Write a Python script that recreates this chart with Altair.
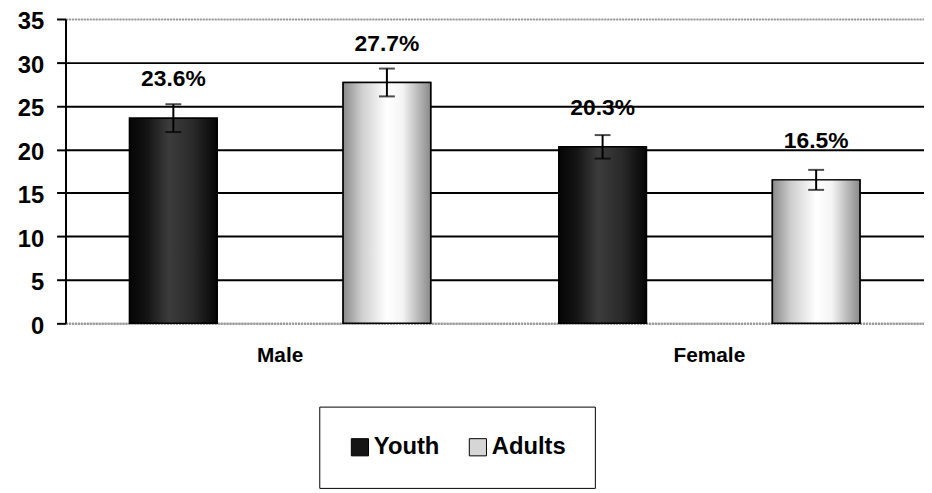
import altair as alt
import pandas as pd

genders = ["Male", "Male", "Female", "Female"]
groups = ["Youth", "Adults", "Youth", "Adults"]
values = [23.6, 27.7, 20.3, 16.5]
errors = [1.6, 1.6, 1.35, 1.15]
labels = ["23.6%", "27.7%", "20.3%", "16.5%"]
y_ticks = [0, 5, 10, 15, 20, 25, 30, 35]

df = pd.DataFrame({"gender": genders, "group": groups, "value": values,
                   "err": errors, "label": labels})
df["lo"] = df["value"] - df["err"]
df["hi"] = df["value"] + df["err"]

FONT = "Liberation Sans"

x = alt.X("gender:N", sort=["Male", "Female"],
          scale=alt.Scale(paddingInner=0, paddingOuter=0),
          axis=alt.Axis(title=None, labelAngle=0, labelFont=FONT, labelFontSize=21,
                        labelFontWeight="bold", labelColor="black", labelPadding=21,
                        ticks=False, domainColor="#999999", domainDash=[2, 1],
                        domainWidth=2))
xo = alt.XOffset("group:N", sort=["Youth", "Adults"],
                 scale=alt.Scale(paddingInner=0.59, paddingOuter=0.3))
y = alt.Y("value:Q", scale=alt.Scale(domain=[0, 35], nice=False),
          axis=alt.Axis(title=None, values=y_ticks, labelFont=FONT, labelFontSize=24,
                        labelFontWeight="bold", labelColor="black", labelPadding=13,
                        labelOffset=3,
                        tickSize=9, tickWidth=2, tickColor="black",
                        domainColor="black", domainWidth=2,
                        grid=True,
                        gridColor={"condition": {"test": "datum.value === 35 || datum.value === 0", "value": "#999999"}, "value": "black"},
                        gridDash={"condition": {"test": "datum.value === 35 || datum.value === 0", "value": [2, 1]}, "value": []},
                        gridWidth=2))

base = alt.Chart(df)

bars = base.mark_bar(stroke="black", strokeWidth=1.5).encode(
    x=x, xOffset=xo, y=y,
    color=alt.Color("group:N", sort=["Youth", "Adults"],
                    scale=alt.Scale(domain=["Youth", "Adults"], range=["#151515", "#d6d6d6"]),
                    legend=alt.Legend(title=None, orient="none", legendX=256, legendY=391,
                                      direction="horizontal", strokeColor="black",
                                      fillColor="white", padding=29,
                                      symbolType="square", symbolSize=300,
                                      symbolStrokeColor="black", symbolStrokeWidth=1,
                                      labelFont=FONT, labelFontSize=24,
                                      labelFontWeight="bold", labelColor="black",
                                      columnPadding=26, labelOffset=2))
)

youth_grad = alt.Gradient(gradient="linear", x1=0, x2=1, y1=0, y2=0, stops=[
    alt.GradientStop(color="#050505", offset=0),
    alt.GradientStop(color="#141414", offset=0.2),
    alt.GradientStop(color="#3c3c3c", offset=0.45),
    alt.GradientStop(color="#2a2a2a", offset=0.72),
    alt.GradientStop(color="#050505", offset=1)])
adult_grad = alt.Gradient(gradient="linear", x1=0, x2=1, y1=0, y2=0, stops=[
    alt.GradientStop(color="#8a8a8a", offset=0),
    alt.GradientStop(color="#d0d0d0", offset=0.22),
    alt.GradientStop(color="#ffffff", offset=0.5),
    alt.GradientStop(color="#f4f4f4", offset=0.68),
    alt.GradientStop(color="#8a8a8a", offset=1)])

youth = base.transform_filter("datum.group === 'Youth'").mark_bar(
    fill=youth_grad, stroke="black", strokeWidth=1.5).encode(x=x, xOffset=xo, y=y)
adults = base.transform_filter("datum.group === 'Adults'").mark_bar(
    fill=adult_grad, stroke="black", strokeWidth=1.5).encode(x=x, xOffset=xo, y=y)

rule = base.mark_rule(color="black", strokeWidth=2).encode(
    x=x, xOffset=xo, y="lo:Q", y2="hi:Q")
cap_hi = base.mark_tick(orient="horizontal", size=16, thickness=2, color="black").encode(
    x=x, xOffset=xo, y="hi:Q")
cap_lo = base.mark_tick(orient="horizontal", size=16, thickness=2, color="black").encode(
    x=x, xOffset=xo, y="lo:Q")

text = base.mark_text(font=FONT, fontSize=23, fontWeight="bold", color="black",
                      baseline="bottom", dy=-27).encode(
    x=x, xOffset=xo, y=y, text="label:N")

chart = alt.layer(bars, youth, adults, rule, cap_hi, cap_lo, text).properties(
    width=866, height=307,
    autosize=alt.AutoSizeParams(type="none"),
    padding={"left": 58, "top": 9, "right": 0, "bottom": 165}
).configure_view(stroke=None).configure(background="white")

chart.save("out.html", embed_options={"renderer": "svg", "actions": False})
